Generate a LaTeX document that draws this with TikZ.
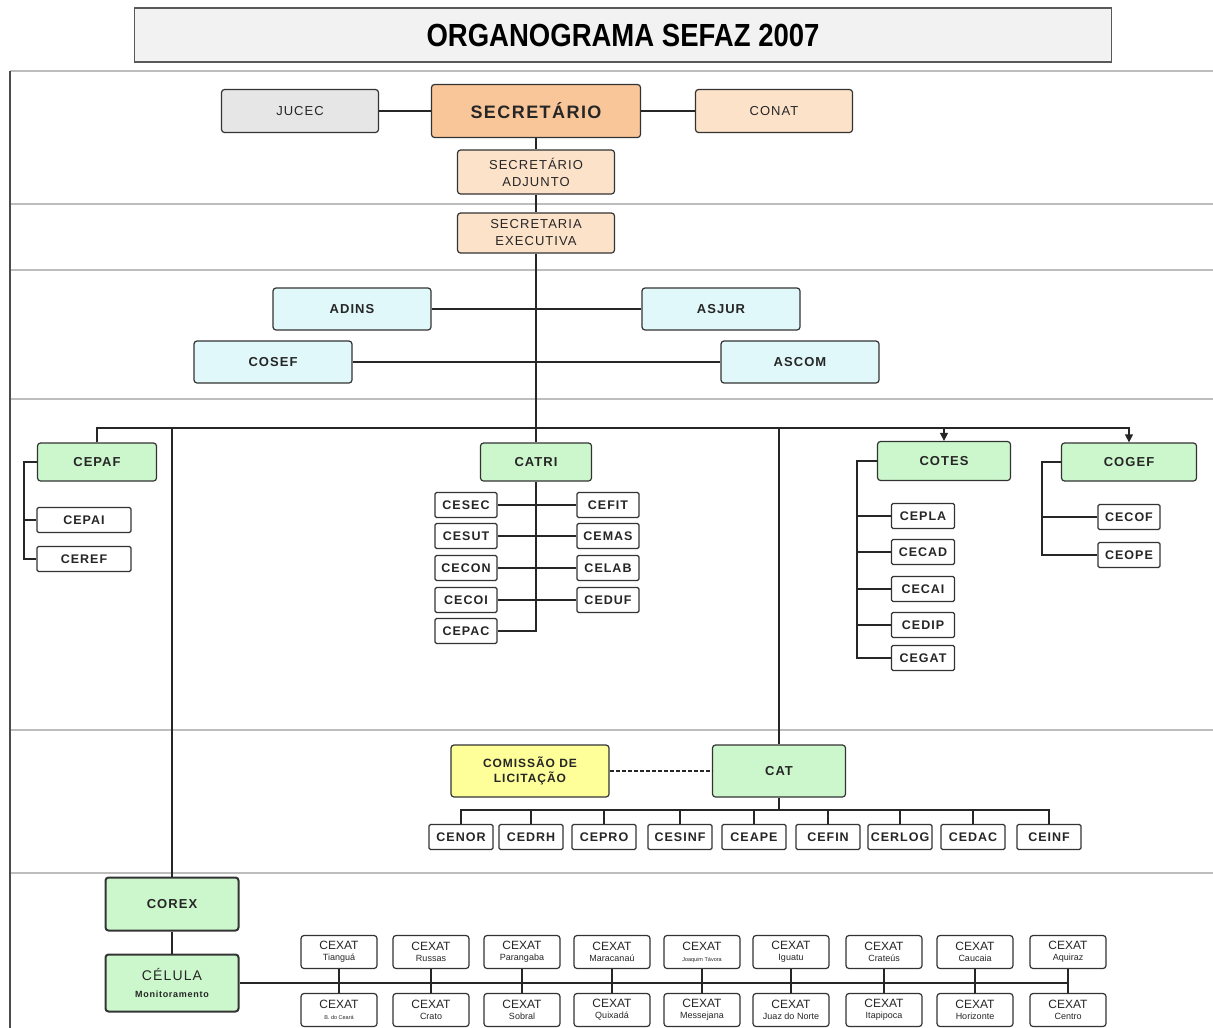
\documentclass[tikz,border=0pt]{standalone}
\usepackage{fontspec}
\setmainfont{Liberation Sans}
\newfontfamily\rotulo[LetterSpace=8]{Liberation Sans}
\usetikzlibrary{arrows.meta}

\definecolor{tituloFundo}{HTML}{F2F2F2}
\definecolor{cinzaCaixa}{HTML}{E6E6E6}
\definecolor{laranja}{HTML}{F9C699}
\definecolor{pessego}{HTML}{FDE2CA}
\definecolor{azulClaro}{HTML}{E1F8FB}
\definecolor{verdeClaro}{HTML}{CCF7CC}
\definecolor{amarelo}{HTML}{FFFF99}
\definecolor{faixaCor}{HTML}{BDBDBD}

\newcommand{\miudo}{\fontsize{5.5}{6}\selectfont}
\newcommand{\cidade}{\fontsize{9}{10}\selectfont}

\begin{document}
\begin{tikzpicture}[x=1pt, y=-1pt,
    every node/.style={align=center, inner sep=1pt, text=black!85},
    caixa/.style={draw=black!80, fill=white, line width=1.2pt, rounded corners=3pt,
        font=\rotulo\fontsize{13}{17}\selectfont},
    pessego/.style={caixa, fill=pessego, minimum width=157pt},
    azul/.style={caixa, fill=azulClaro, minimum width=158pt, minimum height=42pt,
        font=\rotulo\bfseries\fontsize{13}{15}\selectfont},
    verde/.style={caixa, fill=verdeClaro, minimum height=38pt,
        font=\rotulo\bfseries\fontsize{13}{17}\selectfont},
    setor/.style={caixa, rounded corners=1.5pt, minimum width=62pt, minimum height=25pt,
        font=\rotulo\bfseries\fontsize{12.5}{14}\selectfont},
    cexat/.style={caixa, minimum width=76pt, minimum height=33pt, font=\fontsize{12}{11}\selectfont},
    ligacao/.style={draw=black!85, line width=1.2pt},
    faixa/.style={draw=faixaCor, line width=2pt}]

\useasboundingbox (0,0) rectangle (1213,1028);

% titulo e faixas
\node[draw=black!65, fill=tituloFundo, line width=1.5pt, minimum width=977pt, minimum height=54pt,
    font=\bfseries\fontsize{32}{34}\selectfont, text=black] (titulo) at (623,35)
    {\scalebox{0.86}[1]{ORGANOGRAMA SEFAZ 2007}};
\draw[faixa] (10,71) -- (1213,71);
\foreach \y in {204,270,399,730,873}
    \draw[faixa] (10,\y) -- (1213,\y);
\draw[draw=black!70, line width=1.5pt] (10,71) -- (10,1028);

% gabinete
\node[caixa, fill=cinzaCaixa, minimum width=157pt, minimum height=43pt] (jucec) at (300,111) {JUCEC};
\node[caixa, fill=laranja, minimum width=209pt, minimum height=53pt,
    font=\rotulo\bfseries\fontsize{18}{20}\selectfont] (secretario) at (536,111) {SECRETÁRIO};
\node[pessego, minimum height=43pt] (conat) at (774,111) {CONAT};
\node[pessego, minimum height=44pt] (adjunto) at (536,172) {SECRETÁRIO\\ADJUNTO};
\node[pessego, minimum height=40pt] (executiva) at (536,233) {SECRETARIA\\EXECUTIVA};

\node[azul] (adins) at (352,309) {ADINS};
\node[azul] (asjur) at (721,309) {ASJUR};
\node[azul] (cosef) at (273,362) {COSEF};
\node[azul] (ascom) at (800,362) {ASCOM};

% coordenadorias
\node[verde, minimum width=119pt] (cepaf) at (97,462) {CEPAF};
\node[verde, minimum width=111pt] (catri) at (536,462) {CATRI};
\node[verde, minimum width=133pt, minimum height=39pt] (cotes) at (944,461) {COTES};
\node[verde, minimum width=135pt] (cogef) at (1129,462) {COGEF};

\node[setor, minimum width=94pt] (cepai) at (84,520) {CEPAI};
\node[setor, minimum width=94pt] (ceref) at (84,559) {CEREF};

\foreach \nome/\txt/\y in {cesec/CESEC/505, cesut/CESUT/536, cecon/CECON/568, cecoi/CECOI/600, cepac/CEPAC/631}
    \node[setor] (\nome) at (466,\y) {\txt};
\foreach \nome/\txt/\y in {cefit/CEFIT/505, cemas/CEMAS/536, celab/CELAB/568, ceduf/CEDUF/600}
    \node[setor] (\nome) at (608,\y) {\txt};
\foreach \nome/\txt/\y in {cepla/CEPLA/516, cecad/CECAD/552, cecai/CECAI/589, cedip/CEDIP/625, cegat/CEGAT/658}
    \node[setor, minimum width=63pt] (\nome) at (923,\y) {\txt};
\node[setor] (cecof) at (1129,517) {CECOF};
\node[setor] (ceope) at (1129,555) {CEOPE};

% CAT
\node[caixa, fill=amarelo, minimum width=158pt, minimum height=52pt,
    font=\rotulo\bfseries\fontsize{12}{15}\selectfont] (comissao) at (530,771) {COMISSÃO DE\\LICITAÇÃO};
\node[verde, minimum width=133pt, minimum height=52pt] (cat) at (779,771) {CAT};
\foreach \nome/\txt/\x in {cenor/CENOR/461, cedrh/CEDRH/531, cepro/CEPRO/604, cesinf/CESINF/680,
        ceape/CEAPE/754, cefin/CEFIN/828, cerlog/CERLOG/900, cedac/CEDAC/973, ceinf/CEINF/1049}
    \node[setor, minimum width=64pt] (\nome) at (\x,837) {\txt};

% COREX
\node[verde, line width=2pt, minimum width=133pt, minimum height=53pt] (corex) at (172,904) {COREX};
\node[verde, line width=2pt, minimum width=133pt, minimum height=57pt,
    font=\rotulo\fontsize{14}{17}\selectfont] (celula) at (172,983)
    {CÉLULA\\{\bfseries\cidade Monitoramento}};
\foreach \i/\x/\cima/\baixo in {1/339/Tianguá/{\miudo B. do Ceará}, 2/431/Russas/Crato,
        3/522/Parangaba/Sobral, 4/612/Maracanaú/Quixadá, 5/702/{\miudo Joaquim Távora}/Messejana,
        6/791/Iguatu/Juaz do Norte, 7/884/Crateús/Itapipoca, 8/975/Caucaia/Horizonte, 9/1068/Aquiraz/Centro}
{
    \node[cexat] (t\i) at (\x,952) {CEXAT\\{\cidade\cima}};
    \node[cexat] (b\i) at (\x,1010) {CEXAT\\{\cidade\baixo}};
}

% ligacoes
\draw[ligacao] (jucec) -- (secretario);
\draw[ligacao] (secretario) -- (conat);
\draw[ligacao] (secretario) -- (adjunto);
\draw[ligacao] (adjunto) -- (executiva);
\draw[ligacao] (executiva) -- (catri);
\draw[ligacao] (adins) -- (asjur);
\draw[ligacao] (cosef) -- (ascom);

\coordinate (barra) at (536,428);
\draw[ligacao, -{Triangle[length=8pt, width=8pt]}] (cepaf) |- (barra) -| (cogef);
\draw[ligacao, -{Triangle[length=8pt, width=8pt]}] (barra) -| (cotes);
\draw[ligacao] (barra) -| (corex);
\draw[ligacao] (barra) -| (cat);

\draw[ligacao] (cepaf.west) -- ++(-13,0) |- (ceref);
\draw[ligacao] (cepai.west) -- ++(-13,0);

\draw[ligacao] (catri) |- (cepac);
\foreach \e/\d in {cesec/cefit, cesut/cemas, cecon/celab, cecoi/ceduf}
    \draw[ligacao] (\e) -- (\d);

\draw[ligacao] (cotes.west) -- ++(-20,0) |- (cegat);
\foreach \f in {cepla,cecad,cecai,cedip}
    \draw[ligacao] (\f.west) -- ++(-34,0);

\draw[ligacao] (cogef.west) -- ++(-19,0) |- (ceope);
\draw[ligacao] (cecof.west) -- ++(-55.5,0);

\draw[ligacao, line width=1.8pt, dash pattern=on 4pt off 2pt] (comissao) -- (cat);
\coordinate (barracat) at (779,810);
\draw[ligacao] (cat) -- (barracat);
\draw[ligacao] (cenor) |- (barracat) -| (ceinf);
\foreach \f in {cedrh,cepro,cesinf,ceape,cefin,cerlog,cedac}
    \draw[ligacao] (\f) -- (\f |- barracat);

\draw[ligacao] (corex) -- (celula);
\draw[ligacao] (celula) -- (celula -| t9);
\foreach \i in {1,...,9}
    \draw[ligacao] (t\i) -- (b\i);
\end{tikzpicture}
\end{document}
